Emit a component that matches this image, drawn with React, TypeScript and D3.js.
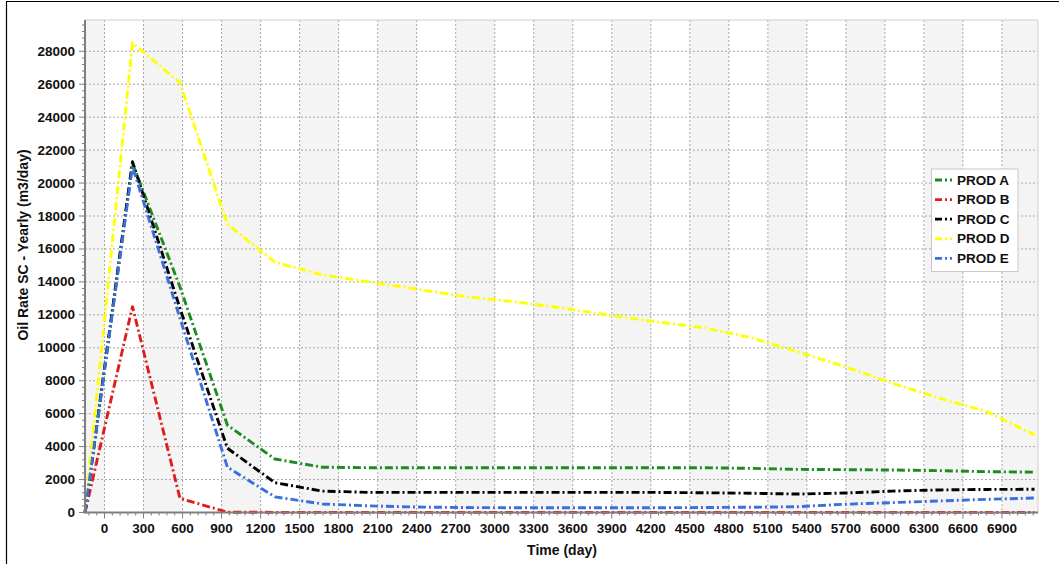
import React from "react";
import * as d3 from "d3";

// yearly report times (day)
const times = [-150, 215, 580, 945, 1310, 1675, 2040, 2405, 2770, 3135, 3500, 3865, 4230, 4595, 4960, 5325, 5690, 6055, 6420, 6785, 7150];

const prodA = [0, 21200, 13700, 5300, 3250, 2750, 2720, 2720, 2720, 2720, 2720, 2720, 2720, 2720, 2680, 2620, 2600, 2580, 2540, 2480, 2450];
const prodB = [0, 12500, 860, 20, 10, 10, 10, 10, 10, 10, 10, 10, 10, 10, 10, 10, 10, 10, 10, 10, 10];
const prodC = [0, 21300, 12400, 3900, 1810, 1300, 1220, 1220, 1220, 1220, 1220, 1220, 1220, 1200, 1170, 1120, 1180, 1300, 1370, 1400, 1410];
const prodD = [0, 28500, 26100, 17500, 15200, 14430, 13990, 13560, 13110, 12810, 12440, 12000, 11590, 11230, 10640, 9770, 8860, 7850, 6940, 6120, 4710];
const prodE = [0, 21000, 11800, 2750, 950, 520, 400, 330, 300, 290, 290, 290, 290, 300, 320, 350, 500, 600, 700, 800, 880];

const seriesNames = ["PROD A", "PROD B", "PROD C", "PROD D", "PROD E"];
const seriesColors = ["#1f8a1f", "#e01b1b", "#000000", "#ffff00", "#3b6fdc"];
const seriesValues = [prodA, prodB, prodC, prodD, prodE];

const xTicks = d3.range(0, 7000, 300);
const yTicks = d3.range(0, 30000, 2000);

const W = 1059;
const H = 564;
const left = 85, right = 1038, top = 20, bottom = 512.5;
const FONT = "'Liberation Sans', Arial, sans-serif";

export default function App() {
  const x = d3.scaleLinear().domain([-150, 7177]).range([left, right]);
  const y = d3.scaleLinear().domain([0, 29900]).range([bottom, top]);

  const line = (vals: number[]) =>
    d3.line<number>()
      .x((_, i) => x(times[i]))
      .y((d) => y(d))(vals) as string;

  // shaded bands: every other 300-day column
  const bands = d3.range(-300, 7200, 300).filter((t) => Math.abs(Math.floor(t / 300)) % 2 === 1);
  const minorX = d3.range(-120, 7177, 60).filter((t) => t % 300 !== 0);
  const minorY = d3.range(400, 29900, 400).filter((v) => v % 2000 !== 0);

  const legX = 931.5, legY = 169, legW = 86.5, legH = 102.5;

  return (
    <svg
      width={W}
      height={H}
      style={{ position: "absolute", left: 0, top: 0, background: "#fff" }}
      fontFamily={FONT}
    >
      {/* outer frame */}
      <line x1={6} x2={W} y1={1.5} y2={1.5} stroke="#000" strokeWidth={1.2} />
      <line x1={6.5} x2={6.5} y1={1.5} y2={H} stroke="#000" strokeWidth={1.2} />

      {/* column shading */}
      {bands.map((t) => {
        const x0 = Math.max(left, x(t));
        const x1 = Math.min(right, x(t + 300));
        return <rect key={t} x={x0} y={top} width={x1 - x0} height={bottom - top} fill="#f4f4f4" />;
      })}

      {/* grid */}
      {xTicks.map((t) => (
        <line key={"gx" + t} x1={x(t)} x2={x(t)} y1={top} y2={bottom} stroke="#a8a8a8" strokeDasharray="2 2" />
      ))}
      {yTicks.slice(1).map((v) => (
        <line key={"gy" + v} x1={left} x2={right} y1={y(v)} y2={y(v)} stroke="#a8a8a8" strokeDasharray="2 2" />
      ))}
      <rect x={left} y={top} width={right - left} height={bottom - top} fill="none" stroke="#d0d0d0" />

      {/* series */}
      {seriesValues.map((vals, i) => (
        <path
          key={seriesNames[i]}
          d={line(vals)}
          fill="none"
          stroke={seriesColors[i]}
          strokeWidth={2.9}
          strokeDasharray="8 3 2 3"
          strokeLinejoin="round"
        />
      ))}

      {/* axes */}
      <line x1={left} x2={left} y1={top} y2={bottom + 1} stroke="#7f7f7f" strokeWidth={2} />
      <line x1={left - 1} x2={right} y1={bottom} y2={bottom} stroke="#7f7f7f" strokeWidth={2} />

      {minorY.map((v) => (
        <line key={"my" + v} x1={left - 3} x2={left} y1={y(v)} y2={y(v)} stroke="#7f7f7f" />
      ))}
      {yTicks.map((v) => (
        <g key={"ty" + v}>
          <line x1={left - 6} x2={left} y1={y(v)} y2={y(v)} stroke="#7f7f7f" />
          <text x={75} y={y(v)} textAnchor="end" dominantBaseline="central" fontSize={13.5} fontWeight="bold" fill="#111">
            {v}
          </text>
        </g>
      ))}

      {minorX.map((t) => (
        <line key={"mx" + t} x1={x(t)} x2={x(t)} y1={bottom} y2={bottom + 3} stroke="#7f7f7f" />
      ))}
      {xTicks.map((t) => (
        <g key={"tx" + t}>
          <line x1={x(t)} x2={x(t)} y1={bottom} y2={bottom + 6} stroke="#7f7f7f" />
          <text x={x(t)} y={532.5} textAnchor="middle" fontSize={13.5} fontWeight="bold" fill="#111">
            {t}
          </text>
        </g>
      ))}

      {/* axis titles */}
      <text x={562} y={555} textAnchor="middle" fontSize={14} fontWeight="bold" fill="#111">
        Time (day)
      </text>
      <text
        transform={`translate(23,245) rotate(-90)`}
        textAnchor="middle"
        dominantBaseline="central"
        fontSize={14}
        fontWeight="bold"
        fill="#111"
      >
        Oil Rate SC - Yearly (m3/day)
      </text>

      {/* legend */}
      <rect x={legX} y={legY} width={legW} height={legH} fill="#fff" stroke="#c8c8c8" />
      {seriesNames.map((name, i) => {
        const cy = 180 + i * 19.6;
        return (
          <g key={"lg" + name}>
            <line x1={935} x2={952} y1={cy} y2={cy} stroke={seriesColors[i]} strokeWidth={2.8} strokeDasharray="7 3 2 3" />
            <text x={957} y={cy} dominantBaseline="central" fontSize={13.5} fontWeight="bold" fill="#111">
              {name}
            </text>
          </g>
        );
      })}
    </svg>
  );
}
